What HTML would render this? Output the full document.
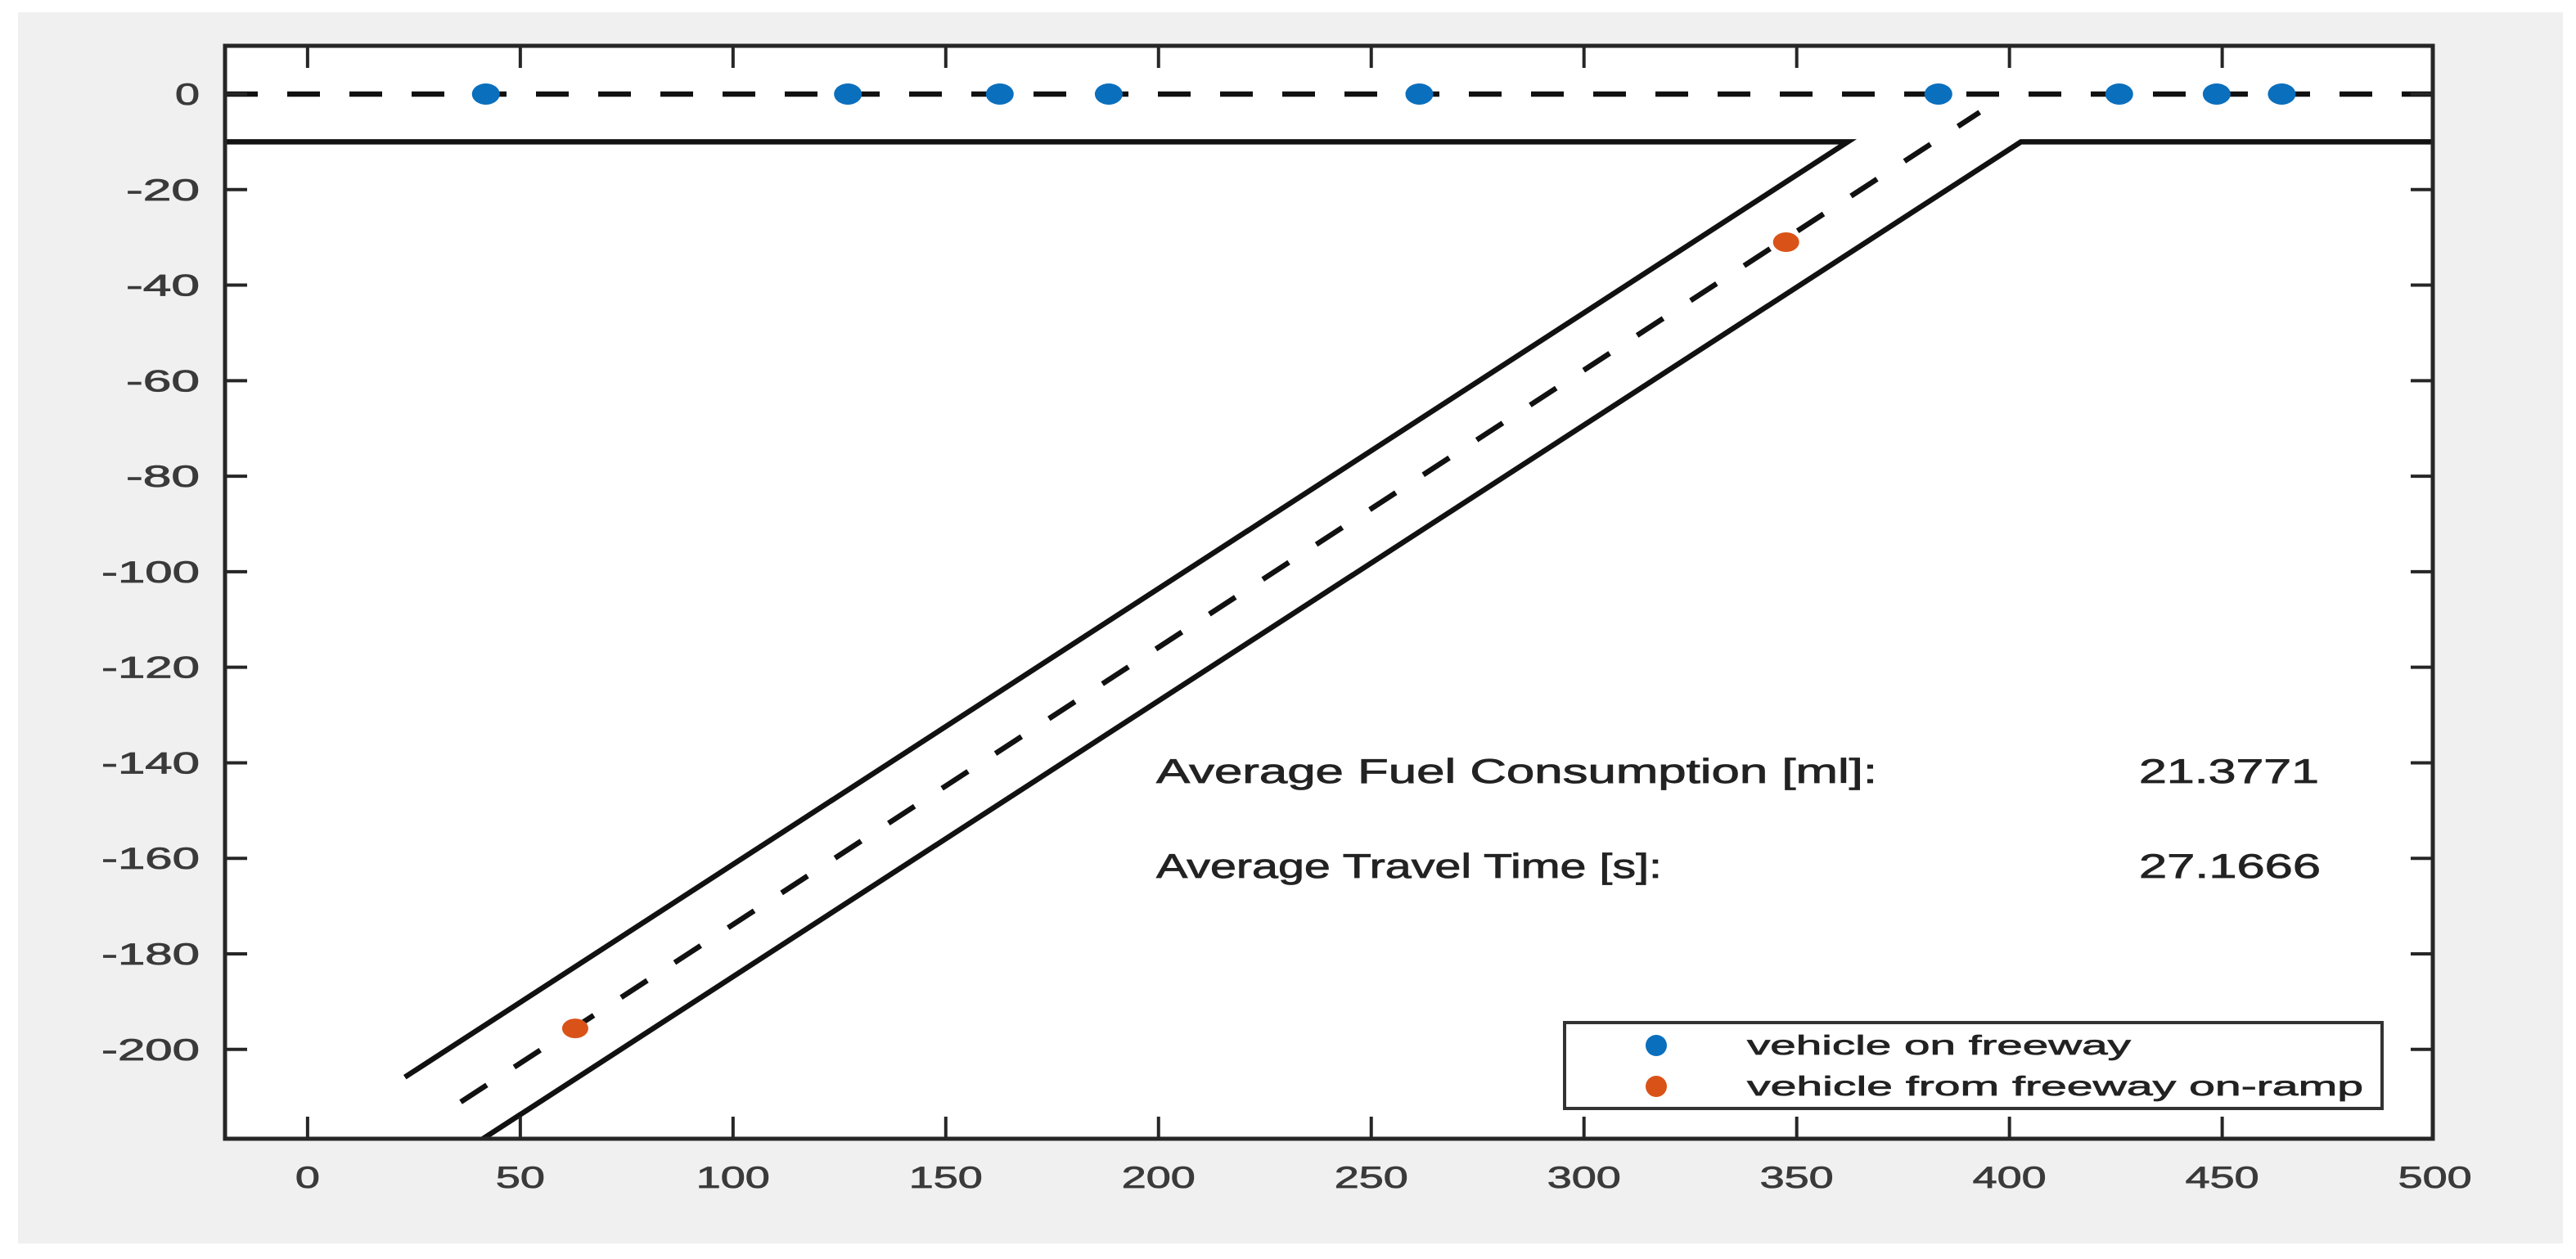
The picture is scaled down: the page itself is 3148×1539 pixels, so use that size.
<!DOCTYPE html>
<html><head><meta charset="utf-8"><style>
html,body{margin:0;padding:0;background:#fff;}
svg{display:block;}
text{font-family:"Liberation Sans",Arial,sans-serif;}
</style></head><body>
<svg id="chart" width="3148" height="1539" viewBox="0 0 3148 1539">
<rect x="22" y="15" width="3110" height="1505" fill="#f0f0f0"/>
<rect x="275" y="56" width="2698" height="1336" fill="#ffffff"/>
<g id="marks"></g>
<g id="axes"></g>
</svg>
<script>
const xTicks=[0,50,100,150,200,250,300,350,400,450,500];
const yTicks=[0,-20,-40,-60,-80,-100,-120,-140,-160,-180,-200];
const freewayX=[41.9,127,162.7,188.3,261.3,383.3,425.8,448.7,464];
const freewayY=[0,0,0,0,0,0,0,0,0];
const rampX=[347.5,62.9];
const rampY=[-31,-195.6];
const xDomain=[-19.4,499.5];
const yDomain=[10.1,-218.7];
const roadEdgeY=-10;
const rampUpperJoinX=362;
const rampLowerJoinX=402.7;
const rampUpperEndY=-205.8;
const rampCenterEnd=[[36,-211],[393,-3.8]];
const statLabels=["Average Fuel Consumption [ml]:","Average Travel Time [s]:"];
const statValues=["21.3771","27.1666"];

const L=275,R=2973,T=56,B=1392;
const sx=v=>L+(v-xDomain[0])/(xDomain[1]-xDomain[0])*(R-L);
const sy=v=>T+(v-yDomain[0])/(yDomain[1]-yDomain[0])*(B-T);
const NS="http://www.w3.org/2000/svg";
const marks=document.getElementById('marks'),axes=document.getElementById('axes');
function mk(tag,attrs,parent){const e=document.createElementNS(NS,tag);for(const k in attrs)e.setAttribute(k,attrs[k]);parent.appendChild(e);return e;}
const slope=Math.tan(Math.PI/6);
const cp=mk('clipPath',{id:'clip'},marks);mk('rect',{x:L,y:T,width:R-L,height:B-T},cp);
const g=mk('g',{'clip-path':'url(#clip)'},marks);
let e=mk('line',{x1:sx(xDomain[0]),y1:sy(0),x2:sx(xDomain[1]),y2:sy(0),stroke:'#111','stroke-width':6.5,'stroke-dasharray':'40 36'},g);


const upEndX=rampUpperJoinX+(rampUpperEndY-roadEdgeY)/slope;
e=mk('polyline',{points:`${sx(xDomain[0])},${sy(roadEdgeY)} ${sx(rampUpperJoinX)},${sy(roadEdgeY)} ${sx(upEndX)},${sy(rampUpperEndY)}`,fill:'none',stroke:'#111','stroke-width':6.5},g);


const loEndX=rampLowerJoinX+(yDomain[1]-5-roadEdgeY)/slope;
e=mk('polyline',{points:`${sx(xDomain[1])},${sy(roadEdgeY)} ${sx(rampLowerJoinX)},${sy(roadEdgeY)} ${sx(loEndX)},${sy(yDomain[1]-5)}`,fill:'none',stroke:'#111','stroke-width':6.5},g);


e=mk('line',{x1:sx(rampCenterEnd[0][0]),y1:sy(rampCenterEnd[0][1]),x2:sx(rampCenterEnd[1][0]),y2:sy(rampCenterEnd[1][1]),stroke:'#111','stroke-width':6.5,'stroke-dasharray':'38 40'},g);


freewayX.forEach((x,i)=>{const c=mk('ellipse',{cx:sx(x),cy:sy(freewayY[i]),rx:17,ry:13,fill:'#0a6fbd'},g);

});
rampX.forEach((x,i)=>{const c=mk('ellipse',{cx:sx(x),cy:sy(rampY[i]),rx:16,ry:12,fill:'#d95319'},g);

});
e=mk('rect',{x:L,y:T,width:R-L,height:B-T,fill:'none',stroke:'#262626','stroke-width':5},axes);


xTicks.forEach(v=>{const x=sx(v);
 if(x>L+3&&x<R-3){mk('line',{x1:x,y1:B,x2:x,y2:B-27,stroke:'#262626','stroke-width':4},axes);mk('line',{x1:x,y1:T,x2:x,y2:T+27,stroke:'#262626','stroke-width':4},axes);}
 const s=String(v);const t=mk('text',{x:x,y:1452,'text-anchor':'middle','font-size':37,fill:'#3a3a3a',stroke:'#3a3a3a','stroke-width':0.8,textLength:30*s.length,lengthAdjust:'spacingAndGlyphs'},axes);t.textContent=s;
 
 });
yTicks.forEach(v=>{const y=sy(v);
 mk('line',{x1:L,y1:y,x2:L+27,y2:y,stroke:'#262626','stroke-width':4},axes);mk('line',{x1:R,y1:y,x2:R-27,y2:y,stroke:'#262626','stroke-width':4},axes);
 const s=String(v);const t=mk('text',{x:244,y:y+13,'text-anchor':'end','font-size':37,fill:'#3a3a3a',stroke:'#3a3a3a','stroke-width':0.8,textLength:30*s.length,lengthAdjust:'spacingAndGlyphs'},axes);t.textContent=s;
 
 });
const lblW=[881,618],valW=[220,222],baseY=[957,1073];
statLabels.forEach((s,i)=>{let t=mk('text',{x:1413,y:baseY[i],'font-size':42,fill:'#222',stroke:'#222','stroke-width':0.8,textLength:lblW[i],lengthAdjust:'spacingAndGlyphs'},axes);t.textContent=s;
 
 
 t=mk('text',{x:2614,y:baseY[i],'font-size':42,fill:'#222',stroke:'#222','stroke-width':0.8,textLength:valW[i],lengthAdjust:'spacingAndGlyphs'},axes);t.textContent=statValues[i];
 
 });
const lg=mk('g',{},axes);


mk('rect',{x:1912,y:1250,width:999,height:105,fill:'#fff',stroke:'#333','stroke-width':4},lg);
const legTxt=["vehicle on freeway","vehicle from freeway on-ramp"],legCol=['#0a6fbd','#d95319'],legW=[469,753];
legTxt.forEach((s,i)=>{const y=1278+i*50;
 const c=mk('ellipse',{cx:2024,cy:y,rx:13,ry:13,fill:legCol[i]},lg);
 
 
 const t=mk('text',{x:2135,y:y+11,'font-size':33,fill:'#222',stroke:'#222','stroke-width':0.7,textLength:legW[i],lengthAdjust:'spacingAndGlyphs'},lg);t.textContent=s;
 
 });
</script>
</body></html>
